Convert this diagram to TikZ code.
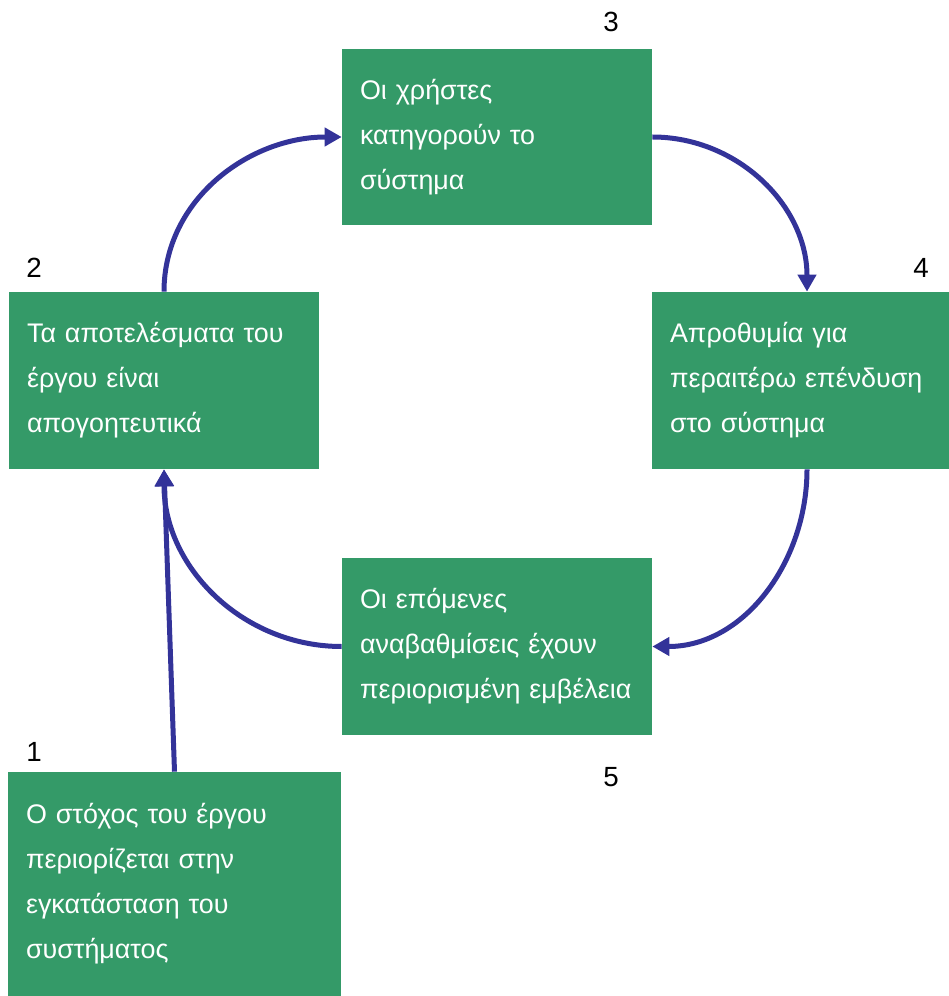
\documentclass[tikz,border=0pt]{standalone}
\usepackage{fontspec}
\setmainfont{Liberation Sans}
\usetikzlibrary{arrows.meta,positioning}
\definecolor{boxgreen}{RGB}{52,154,104}
\definecolor{arrblue}{RGB}{51,51,153}

\begin{document}
\begin{tikzpicture}[x=0.02cm,y=-0.02cm,
  font=\fontsize{15.3}{25.6}\selectfont,
  r/.style={fill=boxgreen,text=white,align=left,inner xsep=0.36cm,
            inner ysep=0pt,text width=5.48cm,minimum height=3.54cm},
  lnk/.style={arrblue,line width=0.1cm,-{Triangle[length=0.34cm,width=0.36cm]}},
  num/.style={font=\fontsize{15.8}{18}\selectfont}]
\useasboundingbox (0,0) rectangle (948,996);
% the five steps of the cycle
\node[r,text width=5.94cm,minimum height=4.48cm] (goal) at (174.5,884)
   {Ο στόχος του έργου\\περιορίζεται στην\\εγκατάσταση του\\συστήματος};
\node[r] (res) at (164,380.5)
   {Τα αποτελέσματα του\\έργου είναι\\απογοητευτικά};
\node[r] (users) at (497,137)
   {Οι χρήστες\\κατηγορούν το\\σύστημα};
\node[r] (inv) at (807,380.5)
   {Απροθυμία για\\περαιτέρω επένδυση\\στο σύστημα};
\node[r] (upg) at (497,646.5)
   {Οι επόμενες\\αναβαθμίσεις έχουν\\περιορισμένη εμβέλεια};
% step numbers
\node[num] at (34,752) {1};
\node[num] at (34,268) {2};
\node[num] at (611,22) {3};
\node[num] at (921,268) {4};
\node[num] at (611,777) {5};
% links
\draw[lnk] (goal.north) -- (res.south);
\draw[lnk] (upg.west) to[out=180,in=-90] (res.south);
\draw[lnk] (res.north) to[out=90,in=180] (users.west);
\draw[lnk] (users.east) to[out=0,in=90] (inv.north);
\draw[lnk] (inv.south) to[out=-90,in=0] (upg.east);
\end{tikzpicture}
\end{document}
